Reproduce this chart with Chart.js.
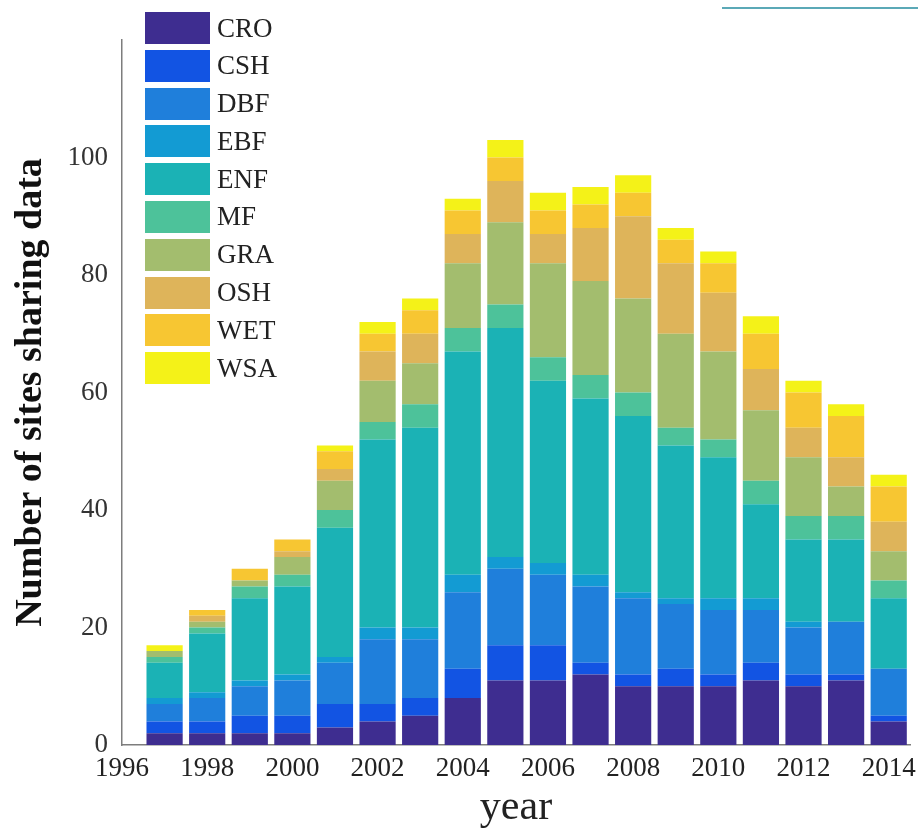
<!DOCTYPE html>
<html>
<head>
<meta charset="utf-8">
<script src="https://cdn.jsdelivr.net/npm/chart.js@4"></script>
<style>
  body { margin: 0; background: #fff; }
  #wrap { position: relative; width: 918px; height: 831px; }
  #legend { position: absolute; left: 145px; top: 12px; background: #fff; }
  .item { display: flex; align-items: center; height: 32px; margin-bottom: 5.8px; }
  .box { width: 65px; height: 32px; }
  .lbl { margin-left: 7px; font: 27px "Liberation Serif", serif; color: #222; }
  #topline { position: absolute; left: 722px; top: 7px; width: 196px; height: 2px; background: #5ba9b7; }
</style>
</head>
<body>
<div id="wrap">
  <canvas id="chart" width="918" height="831"></canvas>
  <div id="legend"></div>
  <div id="topline"></div>
</div>
<script>
// years on the x axis, one bar per year
const years = [1997, 1998, 1999, 2000, 2001, 2002, 2003, 2004, 2005, 2006, 2007, 2008, 2009, 2010, 2011, 2012, 2013, 2014];

// site counts per vegetation type
const cro = [2, 2, 2, 2, 3, 4, 5, 8, 11, 11, 12, 10, 10, 10, 11, 10, 11, 4];
const csh = [2, 2, 3, 3, 4, 3, 3, 5, 6, 6, 2, 2, 3, 2, 3, 2, 1, 1];
const dbf = [3, 4, 5, 6, 7, 11, 10, 13, 13, 12, 13, 13, 11, 11, 9, 8, 9, 8];
const ebf = [1, 1, 1, 1, 1, 2, 2, 3, 2, 2, 2, 1, 1, 2, 2, 1, 0, 0];
const enf = [6, 10, 14, 15, 22, 32, 34, 38, 39, 31, 30, 30, 26, 24, 16, 14, 14, 12];
const mf  = [1, 1, 2, 2, 3, 3, 4, 4, 4, 4, 4, 4, 3, 3, 4, 4, 4, 3];
const gra = [1, 1, 1, 3, 5, 7, 7, 11, 14, 16, 16, 16, 16, 15, 12, 10, 5, 5];
const osh = [0, 1, 0, 1, 2, 5, 5, 5, 7, 5, 9, 14, 12, 10, 7, 5, 5, 5];
const wet = [0, 1, 2, 2, 3, 3, 4, 4, 4, 4, 4, 4, 4, 5, 6, 6, 7, 6];
const wsa = [1, 0, 0, 0, 1, 2, 2, 2, 3, 3, 3, 3, 2, 2, 3, 2, 2, 2];

const typeNames = ["CRO", "CSH", "DBF", "EBF", "ENF", "MF", "GRA", "OSH", "WET", "WSA"];
const typeValues = [cro, csh, dbf, ebf, enf, mf, gra, osh, wet, wsa];
const typeColors = ["#3e2d90", "#1254e3", "#1f7fdb", "#139bd3", "#1bb2b5",
                    "#4dc29a", "#a3bd6e", "#deb45a", "#f7c632", "#f4f218"];

const tickFont = { family: "'Liberation Serif', serif", size: 27 };

const datasets = typeNames.map((name, i) => ({
    label: name,
    data: years.map((yr, j) => ({ x: yr, y: typeValues[i][j] })),
    backgroundColor: typeColors[i],
    borderWidth: 0,
    barPercentage: 0.85,
    categoryPercentage: 1
}));

new Chart(document.getElementById("chart").getContext("2d"), {
    type: "bar",
    data: { datasets },
    options: {
        responsive: false,
        animation: false,
        layout: { padding: { left: 0, right: 0, top: 40, bottom: 0 } },
        plugins: { legend: { display: false }, tooltip: { enabled: false } },
        scales: {
            x: {
                type: "linear",
                stacked: true,
                offset: false,
                min: 1996,
                max: 2014.5,
                grid: { display: false, drawTicks: false, offset: false },
                border: { display: true, color: "#7d7d7d", width: 1.5 },
                ticks: {
                    stepSize: 2,
                    includeBounds: false,
                    autoSkip: false,
                    maxRotation: 0,
                    padding: 8,
                    color: "#222",
                    font: tickFont,
                    callback: v => (v % 2 === 0 ? String(v) : "")
                },
                title: {
                    display: true,
                    text: "year",
                    color: "#222",
                    font: { family: "'Liberation Serif', serif", size: 42, lineHeight: 1 },
                    padding: { top: 0, bottom: 2 }
                },
                afterFit: s => {
                    s.height = 86;
                    s.paddingLeft = 0;
                    s.paddingRight = 8;
                }
            },
            y: {
                stacked: true,
                min: 0,
                max: 120,
                grid: { display: false, drawTicks: false },
                border: { display: true, color: "#7d7d7d", width: 1.5 },
                ticks: {
                    stepSize: 20,
                    padding: 14,
                    color: "#333",
                    font: tickFont,
                    callback: v => (v > 100 ? "" : String(v))
                },
                title: {
                    display: true,
                    text: "Number of sites sharing data",
                    color: "#111",
                    font: { family: "'Liberation Serif', serif", size: 38, weight: "bold", lineHeight: 1 },
                    padding: { top: 12, bottom: 0 }
                },
                afterFit: s => { s.width = 122; }
            }
        }
    }
});

// legend in the upper-left corner of the plot
const legendBox = document.getElementById("legend");
typeNames.forEach((name, i) => {
    const item = document.createElement("div");
    item.className = "item";
    const sw = document.createElement("div");
    sw.className = "box";
    sw.style.background = typeColors[i];
    const txt = document.createElement("span");
    txt.className = "lbl";
    txt.textContent = name;
    item.appendChild(sw);
    item.appendChild(txt);
    legendBox.appendChild(item);
});
</script>
</body>
</html>
